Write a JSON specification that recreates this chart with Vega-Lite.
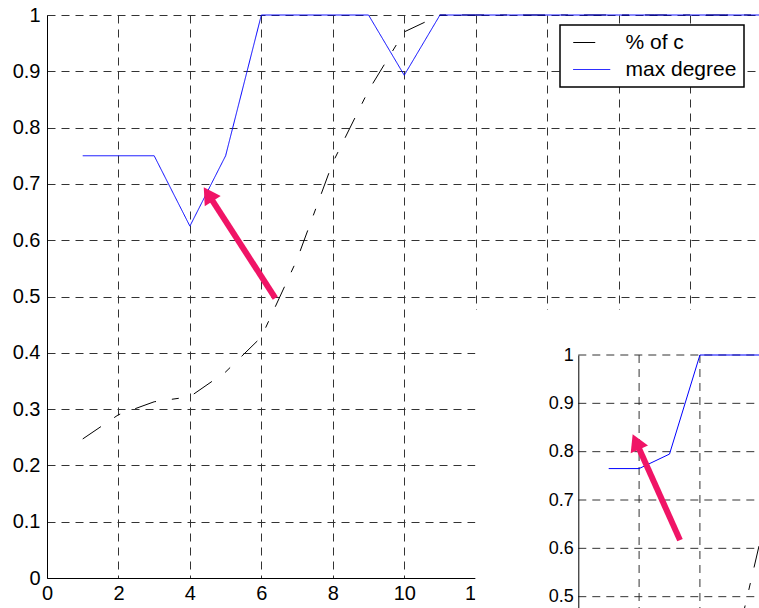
{
  "$schema": "https://vega.github.io/schema/vega-lite/v6.json",
  "width": 712,
  "height": 563,
  "autosize": {"type": "none"},
  "padding": {"left": 47, "top": 15, "right": 0, "bottom": 30},
  "background": "white",
  "config": {
    "view": {"stroke": null},
    "axis": {"labelFont": "Liberation Sans", "labelColor": "#000000", "domainColor": "#000000", "domainWidth": 1, "tickSize": 0, "labelFlush": false, "labelOverlap": false},
    "legend": {"labelFont": "Liberation Sans", "labelColor": "#000000", "strokeWidth": 1.5}
  },
  "datasets": {
    "main": [
      {"series": "% of c", "x": 1, "y": 0.247},
      {"series": "% of c", "x": 2, "y": 0.29},
      {"series": "% of c", "x": 3, "y": 0.313},
      {"series": "% of c", "x": 4, "y": 0.322},
      {"series": "% of c", "x": 5, "y": 0.366},
      {"series": "% of c", "x": 6, "y": 0.428},
      {"series": "% of c", "x": 7, "y": 0.566},
      {"series": "% of c", "x": 8, "y": 0.738},
      {"series": "% of c", "x": 9, "y": 0.866},
      {"series": "% of c", "x": 10, "y": 0.97},
      {"series": "% of c", "x": 11, "y": 1},
      {"series": "% of c", "x": 12, "y": 1},
      {"series": "% of c", "x": 13, "y": 1},
      {"series": "% of c", "x": 14, "y": 1},
      {"series": "% of c", "x": 15, "y": 1},
      {"series": "% of c", "x": 16, "y": 1},
      {"series": "% of c", "x": 17, "y": 1},
      {"series": "% of c", "x": 18, "y": 1},
      {"series": "% of c", "x": 19, "y": 1},
      {"series": "% of c", "x": 20, "y": 1},
      {"series": "max degree", "x": 1, "y": 0.75},
      {"series": "max degree", "x": 2, "y": 0.75},
      {"series": "max degree", "x": 3, "y": 0.75},
      {"series": "max degree", "x": 4, "y": 0.625},
      {"series": "max degree", "x": 5, "y": 0.75},
      {"series": "max degree", "x": 6, "y": 1},
      {"series": "max degree", "x": 7, "y": 1},
      {"series": "max degree", "x": 8, "y": 1},
      {"series": "max degree", "x": 9, "y": 1},
      {"series": "max degree", "x": 10, "y": 0.893},
      {"series": "max degree", "x": 11, "y": 1},
      {"series": "max degree", "x": 12, "y": 1},
      {"series": "max degree", "x": 13, "y": 1},
      {"series": "max degree", "x": 14, "y": 1},
      {"series": "max degree", "x": 15, "y": 1},
      {"series": "max degree", "x": 16, "y": 1},
      {"series": "max degree", "x": 17, "y": 1},
      {"series": "max degree", "x": 18, "y": 1},
      {"series": "max degree", "x": 19, "y": 1},
      {"series": "max degree", "x": 20, "y": 1}
    ],
    "insetBlue": [
      {"x": 1, "y": 0.765},
      {"x": 2, "y": 0.765},
      {"x": 3, "y": 0.795},
      {"x": 4, "y": 1},
      {"x": 5, "y": 1},
      {"x": 6, "y": 1},
      {"x": 7, "y": 1}
    ],
    "insetBlack": [
      {"x": 4, "y": 0.2},
      {"x": 5, "y": 0.35},
      {"x": 6, "y": 0.62},
      {"x": 7, "y": 0.85}
    ]
  },
  "resolve": {"scale": {"x": "independent", "y": "independent"}},
  "layer": [
    {
      "data": {"name": "main"},
      "mark": {"type": "line", "strokeWidth": 1},
      "encoding": {
        "x": {"field": "x", "type": "quantitative", "title": null,
          "scale": {"domain": [0, 19.93], "nice": false, "zero": false},
          "axis": {"orient": "bottom", "values": [0, 2, 4, 6, 8, 10, 12, 14, 16, 18], "labelExpr": "datum.value > 12 ? '' : datum.label", "grid": true, "gridDash": [8, 6], "gridColor": "#333333", "gridOpacity": 1, "labelFontSize": 20, "labelPadding": 5}},
        "y": {"field": "y", "type": "quantitative", "title": null,
          "scale": {"domain": [0, 1], "nice": false},
          "axis": {"orient": "left", "values": [0, 0.1, 0.2, 0.3, 0.4, 0.5, 0.6, 0.7, 0.8, 0.9, 1], "format": ".1~f", "grid": true, "gridDash": [8, 6], "gridColor": "#333333", "gridOpacity": 1, "labelFontSize": 20, "labelPadding": 7}},
        "color": {"field": "series", "type": "nominal", "title": null,
          "scale": {"domain": ["% of c", "max degree"], "range": ["#000000", "#0000ff"]},
          "legend": {"orient": "none", "legendX": 513, "legendY": 10, "title": null, "fillColor": "white", "strokeColor": "#000000", "padding": 7, "labelFontSize": 21, "labelOffset": 37.5, "symbolType": "M-0.46,0H3.54", "symbolSize": 342, "symbolStrokeWidth": 1, "rowPadding": 5}},
        "strokeDash": {"field": "series", "type": "nominal", "title": null,
          "scale": {"domain": ["% of c", "max degree"], "range": [[22, 16, 7, 16], [1, 0]]}}
      }
    },
    {
      "data": {"values": [{"xa": 11.99, "xb": 21, "ya": 0.476, "yb": -0.1}]},
      "mark": {"type": "rect", "fill": "white", "stroke": null},
      "encoding": {
        "x": {"field": "xa", "type": "quantitative", "title": null, "scale": {"domain": [0, 19.93], "nice": false, "zero": false}, "axis": null},
        "x2": {"field": "xb"},
        "y": {"field": "ya", "type": "quantitative", "title": null, "scale": {"domain": [0, 1], "nice": false}, "axis": null},
        "y2": {"field": "yb"}
      }
    },
    {
      "data": {"values": [{"xa": 6.39, "ya": 0.4973, "xb": 4.513, "yb": 0.6817}]},
      "mark": {"type": "rule", "color": "#f01466", "strokeWidth": 6},
      "encoding": {
        "x": {"field": "xa", "type": "quantitative", "title": null, "scale": {"domain": [0, 19.93], "nice": false, "zero": false}, "axis": null},
        "x2": {"field": "xb"},
        "y": {"field": "ya", "type": "quantitative", "title": null, "scale": {"domain": [0, 1], "nice": false}, "axis": null},
        "y2": {"field": "yb"}
      }
    },
    {
      "data": {"values": [{"xb": 4.513, "yb": 0.6817}]},
      "mark": {"type": "point", "shape": "triangle-up", "filled": true, "color": "#f01466", "size": 360, "angle": 327, "opacity": 1, "strokeWidth": 0},
      "encoding": {
        "x": {"field": "xb", "type": "quantitative", "title": null, "scale": {"domain": [0, 19.93], "nice": false, "zero": false}, "axis": null},
        "y": {"field": "yb", "type": "quantitative", "title": null, "scale": {"domain": [0, 1], "nice": false}, "axis": null}
      }
    },
    {
      "data": {"values": [{"gy": 0.5}, {"gy": 0.6}, {"gy": 0.7}, {"gy": 0.8}, {"gy": 0.9}, {"gy": 1}]},
      "mark": {"type": "rule", "color": "#333333", "strokeWidth": 1, "strokeDash": [8, 6]},
      "encoding": {
        "x": {"datum": 0, "type": "quantitative", "title": null, "scale": {"domain": [0, 6.2], "range": [531.3, 719.8], "nice": false, "zero": false}, "axis": null},
        "x2": {"datum": 7},
        "y": {"field": "gy", "type": "quantitative", "title": null,
          "scale": {"domain": [0.4, 1], "range": [630, 340], "nice": false, "zero": false},
          "axis": {"orient": "left", "offset": -531.3, "values": [0.5, 0.6, 0.7, 0.8, 0.9, 1], "format": ".1~f", "grid": false, "labelFontSize": 18, "labelPadding": 5, "zindex": 1}}
      }
    },
    {
      "data": {"values": [{"gx": 2}, {"gx": 4}]},
      "mark": {"type": "rule", "color": "#333333", "strokeWidth": 1, "strokeDash": [8, 6]},
      "encoding": {
        "x": {"field": "gx", "type": "quantitative", "title": null, "scale": {"domain": [0, 6.2], "range": [531.3, 719.8], "nice": false, "zero": false}, "axis": null},
        "y": {"datum": 1, "type": "quantitative", "title": null, "scale": {"domain": [0.4, 1], "range": [630, 340], "nice": false, "zero": false}, "axis": null},
        "y2": {"datum": 0.3}
      }
    },
    {
      "data": {"name": "insetBlack"},
      "mark": {"type": "line", "color": "#000000", "strokeWidth": 1, "strokeDash": [22, 16, 7, 16]},
      "encoding": {
        "x": {"field": "x", "type": "quantitative", "title": null, "scale": {"domain": [0, 6.2], "range": [531.3, 719.8], "nice": false, "zero": false}, "axis": null},
        "y": {"field": "y", "type": "quantitative", "title": null, "scale": {"domain": [0.4, 1], "range": [630, 340], "nice": false, "zero": false}, "axis": null}
      }
    },
    {
      "data": {"name": "insetBlue"},
      "mark": {"type": "line", "color": "#0000ff", "strokeWidth": 1},
      "encoding": {
        "x": {"field": "x", "type": "quantitative", "title": null, "scale": {"domain": [0, 6.2], "range": [531.3, 719.8], "nice": false, "zero": false}, "axis": null},
        "y": {"field": "y", "type": "quantitative", "title": null, "scale": {"domain": [0.4, 1], "range": [630, 340], "nice": false, "zero": false}, "axis": null}
      }
    },
    {
      "data": {"values": [{"xa": 3.345, "ya": 0.617, "xb": 1.898, "yb": 0.8204}]},
      "mark": {"type": "rule", "color": "#f01466", "strokeWidth": 6},
      "encoding": {
        "x": {"field": "xa", "type": "quantitative", "title": null, "scale": {"domain": [0, 6.2], "range": [531.3, 719.8], "nice": false, "zero": false}, "axis": null},
        "x2": {"field": "xb"},
        "y": {"field": "ya", "type": "quantitative", "title": null, "scale": {"domain": [0.4, 1], "range": [630, 340], "nice": false, "zero": false}, "axis": null},
        "y2": {"field": "yb"}
      }
    },
    {
      "data": {"values": [{"xb": 1.898, "yb": 0.8204}]},
      "mark": {"type": "point", "shape": "triangle-up", "filled": true, "color": "#f01466", "size": 360, "angle": 336, "opacity": 1, "strokeWidth": 0},
      "encoding": {
        "x": {"field": "xb", "type": "quantitative", "title": null, "scale": {"domain": [0, 6.2], "range": [531.3, 719.8], "nice": false, "zero": false}, "axis": null},
        "y": {"field": "yb", "type": "quantitative", "title": null, "scale": {"domain": [0.4, 1], "range": [630, 340], "nice": false, "zero": false}, "axis": null}
      }
    }
  ]
}
